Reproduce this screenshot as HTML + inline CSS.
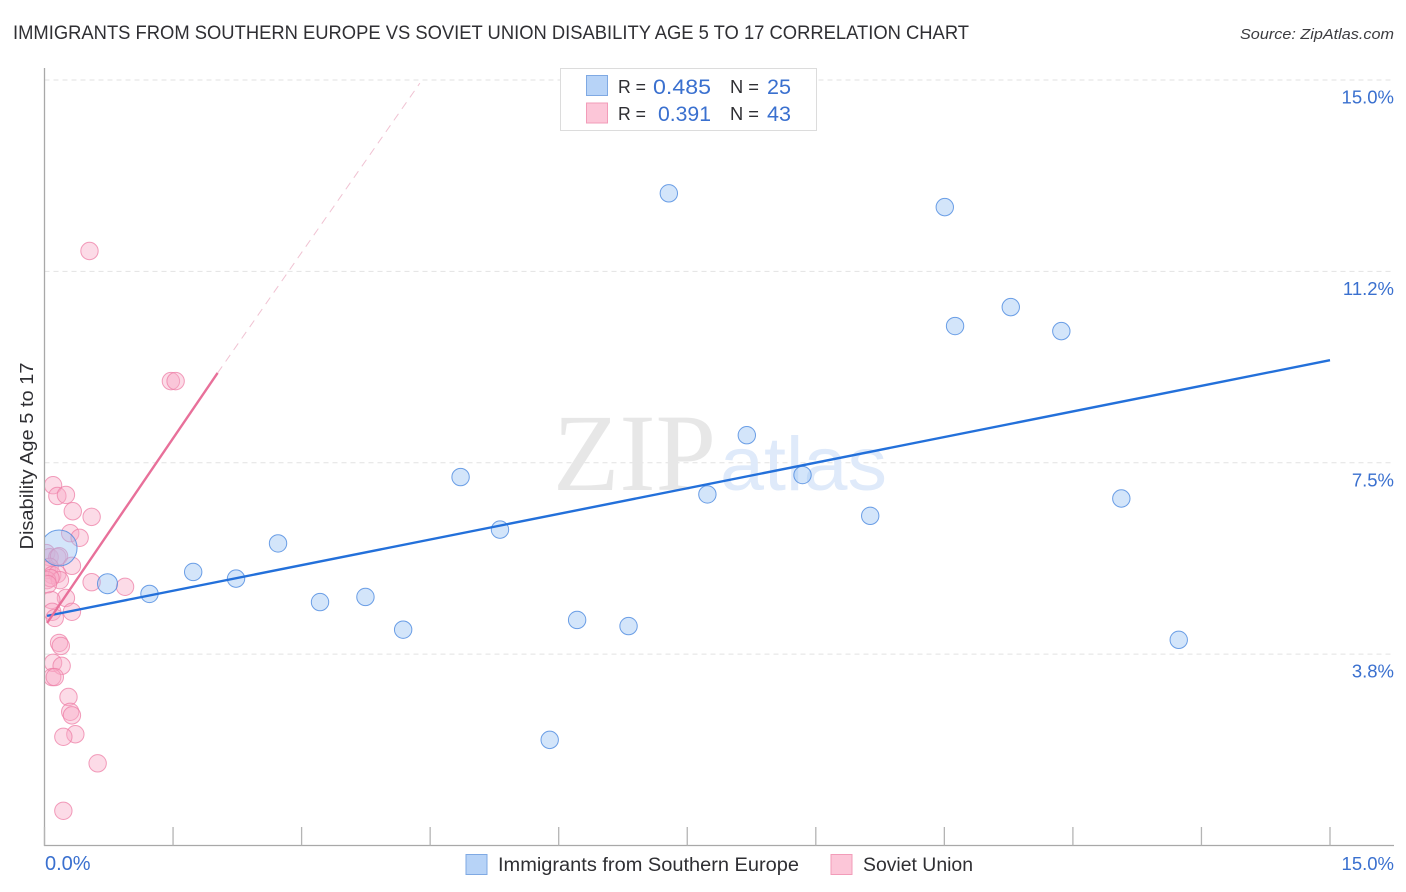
<!DOCTYPE html>
<html lang="en">
<head>
<meta charset="utf-8">
<title>Immigrants from Southern Europe vs Soviet Union Disability Age 5 to 17 Correlation Chart</title>
<style>
html,body{margin:0;padding:0;background:#fff;}
body{width:1406px;height:892px;overflow:hidden;}
svg{display:block;font-family:"Liberation Sans",sans-serif;}
</style>
</head>
<body>
<svg id="chart" width="1406" height="892" viewBox="0 0 1406 892" xmlns="http://www.w3.org/2000/svg">
  <defs>
    <clipPath id="plot-clip"><rect x="45" y="60" width="1349" height="786"/></clipPath>
  </defs>
  <rect x="0" y="0" width="1406" height="892" fill="#ffffff"/>
  <text x="13" y="39" font-size="19.5" fill="#2f2f33" textLength="956" lengthAdjust="spacingAndGlyphs">IMMIGRANTS FROM SOUTHERN EUROPE VS SOVIET UNION DISABILITY AGE 5 TO 17 CORRELATION CHART</text>
  <text x="1394" y="39" font-size="15" font-style="italic" fill="#3c3c40" text-anchor="end" textLength="154" lengthAdjust="spacingAndGlyphs">Source: ZipAtlas.com</text>

  <g id="grid"></g>

  <g>
    <text x="553" y="490" font-family="'Liberation Serif',serif" font-size="110" fill="#e7e7e7" textLength="163" lengthAdjust="spacingAndGlyphs">ZIP</text>
    <text x="720" y="490" font-size="76" fill="#dfeafa" textLength="167" lengthAdjust="spacingAndGlyphs">atlas</text>
  </g>

  <g id="axes"></g>
  <g clip-path="url(#plot-clip)">
    <g id="points-pink"></g>
    <g id="points-blue"></g>
  </g>
  <g id="trends"></g>
  <g id="labels"></g>

  <text transform="translate(33,456) rotate(-90)" font-size="18.5" fill="#2f2f33" text-anchor="middle" textLength="187" lengthAdjust="spacingAndGlyphs">Disability Age 5 to 17</text>

  <g>
    <rect x="560.5" y="68.5" width="256" height="62" fill="#ffffff" stroke="#dcdcdc"/>
    <rect x="586.5" y="75.5" width="21" height="20" fill="#b7d3f7" stroke="#7fa9e3"/>
    <rect x="586.5" y="103" width="21" height="20" fill="#fcc6d8" stroke="#f29cb9"/>
    <text x="618" y="93" font-size="18.5" fill="#2f2f33" textLength="28" lengthAdjust="spacingAndGlyphs">R =</text>
    <text x="653" y="94" font-size="21" fill="#3a70cf" textLength="58" lengthAdjust="spacingAndGlyphs">0.485</text>
    <text x="730" y="93" font-size="18.5" fill="#2f2f33" textLength="29" lengthAdjust="spacingAndGlyphs">N =</text>
    <text x="767" y="94" font-size="21" fill="#3a70cf" textLength="24" lengthAdjust="spacingAndGlyphs">25</text>
    <text x="618" y="120" font-size="18.5" fill="#2f2f33" textLength="28" lengthAdjust="spacingAndGlyphs">R =</text>
    <text x="658" y="121" font-size="21" fill="#3a70cf" textLength="53" lengthAdjust="spacingAndGlyphs">0.391</text>
    <text x="730" y="120" font-size="18.5" fill="#2f2f33" textLength="29" lengthAdjust="spacingAndGlyphs">N =</text>
    <text x="767" y="121" font-size="21" fill="#3a70cf" textLength="24" lengthAdjust="spacingAndGlyphs">43</text>
  </g>

  <g>
    <rect x="466" y="854.5" width="21" height="20" fill="#b7d3f7" stroke="#7fa9e3"/>
    <text x="498" y="871" font-size="19" fill="#2f2f33" textLength="301" lengthAdjust="spacingAndGlyphs">Immigrants from Southern Europe</text>
    <rect x="831" y="854.5" width="21" height="20" fill="#fcc6d8" stroke="#f29cb9"/>
    <text x="863" y="871" font-size="19" fill="#2f2f33" textLength="110" lengthAdjust="spacingAndGlyphs">Soviet Union</text>
  </g>
</svg>
<script>
// Data values (percent)
const blueX = [7.285,10.505,11.275,10.625,11.865,8.195,4.855,8.845,7.735,12.565,9.635,5.315,2.725,0.17,1.735,2.235,0.735,1.225,3.215,3.745,4.185,6.215,6.815,13.235,5.895];
const blueY = [12.78,12.51,10.55,10.18,10.08,8.04,7.22,7.26,6.88,6.80,6.46,6.19,5.92,5.83,5.36,5.23,5.13,4.93,4.77,4.87,4.23,4.42,4.30,4.03,2.07];
const blueWeight = [1,1,1,1,1,1,1,1,1,1,1,1,1,3.3,1,1,1.6,1,1,1,1,1,1,1,1];
const pinkX = [0.525,1.475,1.53,0.10,0.15,0.25,0.33,0.55,0.30,0.41,0.02,0.06,0.15,0.17,0.32,0.03,0.06,0.09,0.15,0.18,0.03,0.07,0.55,0.94,0.25,0.08,0.09,0.32,0.12,0.17,0.19,0.10,0.20,0.09,0.12,0.28,0.30,0.32,0.36,0.22,0.62,0.22,0.04];
const pinkY = [11.65,9.10,9.10,7.06,6.85,6.87,6.55,6.44,6.12,6.03,5.73,5.65,5.65,5.67,5.48,5.40,5.46,5.30,5.32,5.20,5.20,5.24,5.16,5.07,4.85,4.81,4.58,4.58,4.46,3.97,3.91,3.58,3.52,3.30,3.30,2.91,2.62,2.55,2.18,2.13,1.61,0.68,5.12];
const blueTrendX = [0.03,15];
const blueTrendY = [4.50,9.51];
const pinkTrendX = [0.03,2.02];
const pinkTrendY = [4.36,9.26];
const pinkDashX = [2.02,4.38];
const pinkDashY = [9.26,14.94];
const xTicks = [0,1.5,3,4.5,6,7.5,9,10.5,12,13.5,15];
const yGrid = [15,11.25,7.5,3.75];
const yTickLabels = ["15.0%","11.2%","7.5%","3.8%"];
const xTickLabels = ["0.0%","15.0%"];
const xLabelValues = [0,15];

const NS = 'http://www.w3.org/2000/svg';
function sx(v){ return 44.5 + v * 85.7; }
function sy(v){ return 845.5 - v * 51.03; }
function make(tag, parent, attrs){
  const el = document.createElementNS(NS, tag);
  for (const k in attrs) el.setAttribute(k, attrs[k]);
  parent.appendChild(el);
  return el;
}

const grid = document.getElementById('grid');
yGrid.forEach(function(v){
  const el = make('line', grid, {x1:44.5, x2:1394, y1:sy(v), y2:sy(v), stroke:'#e2e2e2', 'stroke-width':1, 'stroke-dasharray':'5 4'});
  
  
});

const axes = document.getElementById('axes');
const yAxis = make('line', axes, {x1:44.5, x2:44.5, y1:68, y2:846, stroke:'#a8a8a8', 'stroke-width':1.3});


const xAxis = make('line', axes, {x1:44, x2:1394, y1:845.5, y2:845.5, stroke:'#a8a8a8', 'stroke-width':1.3});


xTicks.forEach(function(v){
  const el = make('line', axes, {x1:sx(v), x2:sx(v), y1:827, y2:845.5, stroke:'#b4b4b4', 'stroke-width':1.3});
  
  
});

const pinkG = document.getElementById('points-pink');
pinkX.forEach(function(v, i){
  const el = make('circle', pinkG, {cx:sx(v), cy:sy(pinkY[i]), r:8.7, fill:'rgba(249,170,197,0.42)', stroke:'rgba(238,125,165,0.75)', 'stroke-width':1});
  
  
});

const blueG = document.getElementById('points-blue');
blueX.forEach(function(v, i){
  const w = blueWeight[i];
  const el = make('circle', blueG, {cx:sx(v), cy:sy(blueY[i]), r:w > 2 ? 18 : (w > 1 ? 10 : 8.7), fill:'rgba(150,192,243,0.42)', stroke:'rgba(74,136,224,0.8)', 'stroke-width':1});
  
  
});

const trends = document.getElementById('trends');
const blueTrend = make('line', trends, {x1:sx(blueTrendX[0]), y1:sy(blueTrendY[0]), x2:sx(blueTrendX[1]), y2:sy(blueTrendY[1]), stroke:'#2370da', 'stroke-width':2.4});


const pinkDash = make('line', trends, {x1:sx(pinkDashX[0]), y1:sy(pinkDashY[0]), x2:sx(pinkDashX[1]), y2:sy(pinkDashY[1]), stroke:'#f0c2d2', 'stroke-width':1, 'stroke-dasharray':'8 6'});


const pinkTrend = make('line', trends, {x1:sx(pinkTrendX[0]), y1:sy(pinkTrendY[0]), x2:sx(pinkTrendX[1]), y2:sy(pinkTrendY[1]), stroke:'#e8709a', 'stroke-width':2.4});



const labels = document.getElementById('labels');
yTickLabels.forEach(function(t, i){
  const el = make('text', labels, {x:1394, y:sy(yGrid[i]) + 23.5, 'font-size':18.5, fill:'#3a70cf', 'text-anchor':'end'});
  
  
  el.textContent = t;
});
xTickLabels.forEach(function(t, i){
  const isFirst = xLabelValues[i] === 0;
  const el = make('text', labels, {x:isFirst ? 45 : 1394, y:870, 'font-size':isFirst ? 20 : 18.5, fill:'#3a70cf', 'text-anchor':isFirst ? 'start' : 'end'});
  
  
  el.textContent = t;
});
</script>
</body>
</html>
